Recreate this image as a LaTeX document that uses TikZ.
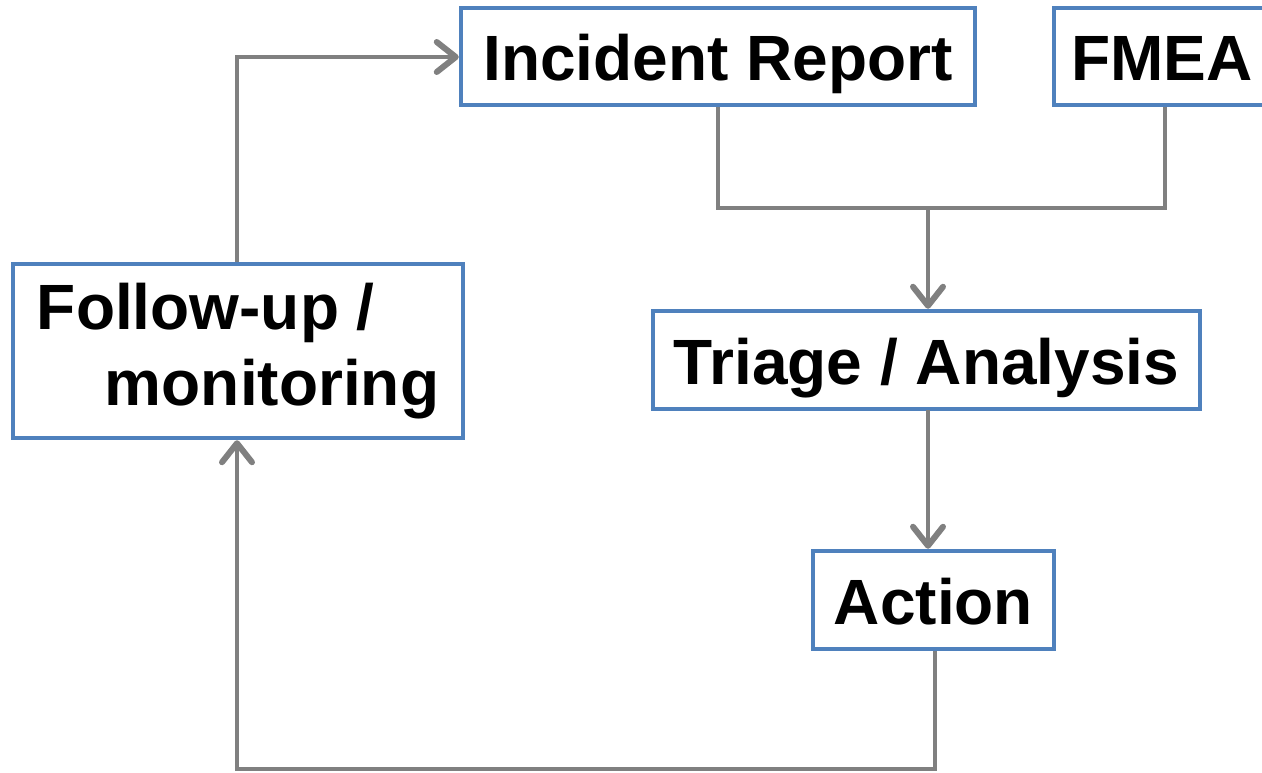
\documentclass[tikz,border=0pt]{standalone}
\usepackage{fontspec}
\setmainfont{Liberation Sans}
\usetikzlibrary{arrows.meta}
\definecolor{boxblue}{HTML}{4F81BD}
\definecolor{linkgray}{HTML}{808080}
\begin{document}
\begin{tikzpicture}[x=1pt,y=-1pt,
  stepbox/.style={draw=boxblue, line width=4.5pt, fill=white, inner sep=0pt,
    font=\fontsize{64}{76}\selectfont\bfseries},
  oneline/.style={text height=49pt, text depth=0pt},
  link/.style={draw=linkgray, line width=4pt},
  arr/.style={link, -{Straight Barb[length=19pt,width=30pt,line width=2pt 1,line cap=round,line join=round]}}]
\useasboundingbox (0,0) rectangle (1262,773);
\clip (0,0) rectangle (1262,773);

% process boxes
\node[stepbox, oneline, minimum width=514pt, minimum height=97pt] (ir) at (718,56.5) {Incident Report};
\node[stepbox, oneline, minimum width=222pt, minimum height=97pt] (fmea) at (1165,56.5) {\hspace*{-6pt}FMEA};
\node[stepbox, oneline, minimum width=547pt, minimum height=98pt] (tri) at (926.5,360) {Triage / Analysis};
\node[stepbox, oneline, minimum width=241pt, minimum height=98pt] (act) at (933.5,600) {Action};
\node[stepbox, minimum width=450pt, minimum height=174pt, align=left] (fol) at (238,351)
  {\rule{0pt}{8pt}Follow-up /\\\hspace*{68pt}monitoring};

% merge of the two inputs
\coordinate (j) at (928,208);
\coordinate (jl) at (ir.south |- j);
\coordinate (jr) at (fmea.south |- j);
\draw[link] (ir.south) -- (jl) -- (jr) -- (fmea.south);
\draw[arr] (j) -- (j |- tri.north);

% triage to action
\coordinate (t) at (928,410);
\draw[arr] (t) -- (t |- act.north);

% feedback loop
\coordinate (ab) at (935,769);
\coordinate (fb) at (237,769);
\coordinate (ft) at (237,57);
\draw[arr] (act.south -| ab) -- (ab) -- (fb) -- (fb |- fol.south);
\draw[arr] (fol.north -| ft) -- (ft) -- (ft -| ir.west);
\end{tikzpicture}
\end{document}
